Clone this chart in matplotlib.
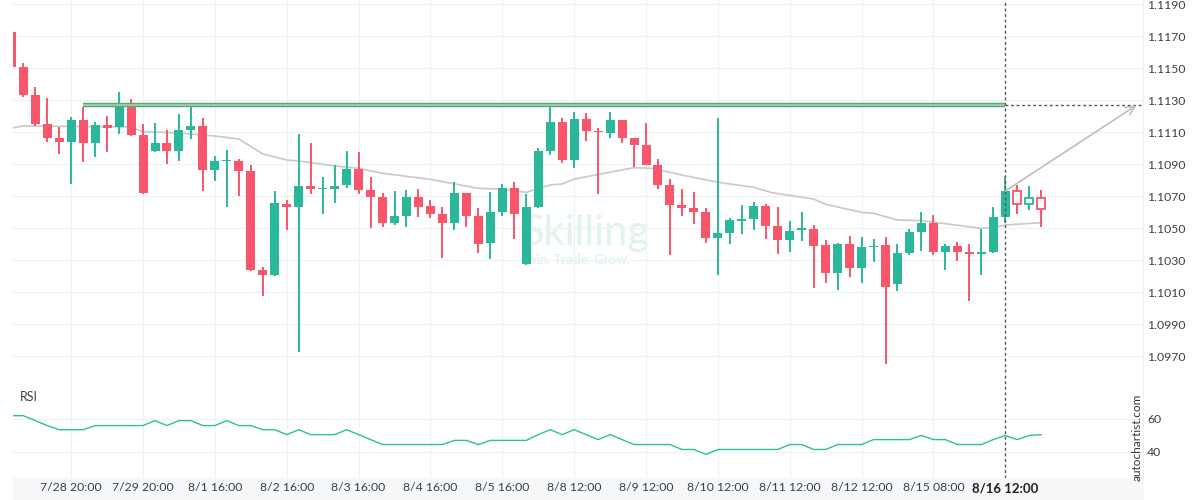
import numpy as np
import matplotlib
matplotlib.use("Agg")
import matplotlib.pyplot as plt

plt.rcParams['font.family'] = ['Lato', 'DejaVu Sans']

# 4h candles, index 0 = 7/28 00:00 ; candles 84-86 are the hollow (after signal) ones
opens = [1.11725, 1.11506, 1.11331, 1.11150, 1.11063, 1.11040, 1.11175, 1.11033, 1.11144, 1.11131,
         1.11256, 1.11081, 1.10983, 1.11030, 1.10983, 1.11113, 1.11138, 1.10864, 1.10919, 1.10919,
         1.10856, 1.10238, 1.10208, 1.10650, 1.10629, 1.10763, 1.10744, 1.10744, 1.10769, 1.10869,
         1.10738, 1.10694, 1.10533, 1.10577, 1.10694, 1.10638, 1.10588, 1.10533, 1.10719, 1.10575,
         1.10408, 1.10602, 1.10750, 1.10277, 1.10631, 1.10983, 1.11163, 1.10925, 1.11181, 1.11108,
         1.11096, 1.11175, 1.11063, 1.11019, 1.10892, 1.10769, 1.10644, 1.10625, 1.10600, 1.10440,
         1.10469, 1.10546, 1.10558, 1.10638, 1.10513, 1.10427, 1.10490, 1.10494, 1.10394, 1.10221,
         1.10400, 1.10252, 1.10383, 1.10394, 1.10152, 1.10346, 1.10477, 1.10531, 1.10352, 1.10388,
         1.10350, 1.10339, 1.10350, 1.10571, 1.10731, 1.10648, 1.10686]
highs = [1.11725, 1.11529, 1.11379, 1.11311, 1.11129, 1.11192, 1.11258, 1.11163, 1.11198, 1.11348,
         1.11304, 1.11148, 1.11154, 1.11113, 1.11211, 1.11267, 1.11188, 1.10950, 1.10986, 1.10931,
         1.10894, 1.10258, 1.10731, 1.10675, 1.11086, 1.11033, 1.10819, 1.10894, 1.10981, 1.10975,
         1.10817, 1.10717, 1.10729, 1.10738, 1.10742, 1.10673, 1.10633, 1.10790, 1.10719, 1.10625,
         1.10723, 1.10775, 1.10786, 1.10714, 1.10998, 1.11263, 1.11186, 1.11223, 1.11217, 1.11123,
         1.11223, 1.11175, 1.11063, 1.11154, 1.10929, 1.10804, 1.10744, 1.10723, 1.10625, 1.11186,
         1.10563, 1.10642, 1.10660, 1.10652, 1.10629, 1.10542, 1.10598, 1.10517, 1.10427, 1.10406,
         1.10450, 1.10444, 1.10430, 1.10446, 1.10400, 1.10494, 1.10598, 1.10580, 1.10400, 1.10410,
         1.10400, 1.10494, 1.10633, 1.10817, 1.10769, 1.10763, 1.10738]
lows = [1.11508, 1.11317, 1.11138, 1.11039, 1.10961, 1.10773, 1.10910, 1.10942, 1.10973, 1.11086,
        1.11077, 1.10715, 1.10977, 1.10898, 1.10917, 1.11054, 1.10733, 1.10796, 1.10629, 1.10702,
        1.10233, 1.10075, 1.10200, 1.10488, 1.09725, 1.10710, 1.10586, 1.10658, 1.10752, 1.10710,
        1.10498, 1.10504, 1.10520, 1.10504, 1.10567, 1.10565, 1.10311, 1.10486, 1.10504, 1.10346,
        1.10304, 1.10577, 1.10429, 1.10269, 1.10623, 1.10954, 1.10908, 1.10873, 1.11046, 1.10710,
        1.11061, 1.11030, 1.10880, 1.10892, 1.10746, 1.10329, 1.10573, 1.10523, 1.10404, 1.10204,
        1.10398, 1.10461, 1.10486, 1.10429, 1.10336, 1.10348, 1.10417, 1.10127, 1.10156, 1.10111,
        1.10192, 1.10154, 1.10290, 1.09648, 1.10104, 1.10329, 1.10358, 1.10329, 1.10236, 1.10292,
        1.10042, 1.10204, 1.10342, 1.10530, 1.10586, 1.10613, 1.10508]
closes = [1.11508, 1.11333, 1.11152, 1.11064, 1.11040, 1.11175, 1.11033, 1.11142, 1.11127, 1.11256,
          1.11083, 1.10721, 1.11030, 1.10983, 1.11113, 1.11138, 1.10864, 1.10919, 1.10923, 1.10859,
          1.10239, 1.10208, 1.10656, 1.10629, 1.10763, 1.10744, 1.10752, 1.10763, 1.10869, 1.10740,
          1.10694, 1.10533, 1.10575, 1.10694, 1.10633, 1.10588, 1.10533, 1.10719, 1.10577, 1.10402,
          1.10600, 1.10750, 1.10589, 1.10631, 1.10981, 1.11163, 1.10925, 1.11181, 1.11108, 1.11102,
          1.11175, 1.11064, 1.11021, 1.10896, 1.10771, 1.10646, 1.10627, 1.10602, 1.10440, 1.10469,
          1.10550, 1.10556, 1.10638, 1.10514, 1.10427, 1.10481, 1.10500, 1.10390, 1.10221, 1.10400,
          1.10252, 1.10381, 1.10390, 1.10133, 1.10344, 1.10475, 1.10531, 1.10352, 1.10388, 1.10352,
          1.10339, 1.10350, 1.10571, 1.10731, 1.10648, 1.10686, 1.10617]

# moving average (grey), read at these candle positions
ma_x = [0, 1, 10, 11, 14, 17, 19, 21, 23, 24, 27, 29, 31, 35, 39, 41, 43, 45, 46, 47, 48,
        52, 53.5, 56, 59, 62, 63.5, 67, 68, 71, 72, 74, 76, 81, 82, 83, 86]
ma_y = [1.11125, 1.11138, 1.11131, 1.11102, 1.11094, 1.11075, 1.11056, 1.10963, 1.10925, 1.10919,
        1.10888, 1.10873, 1.10842, 1.10804, 1.10748, 1.10742, 1.10723, 1.10769, 1.10775, 1.10806,
        1.10820, 1.10877, 1.10873, 1.10831, 1.10786, 1.10754, 1.10721, 1.10681, 1.10648, 1.10598,
        1.10592, 1.10550, 1.10546, 1.10498, 1.10502, 1.10519, 1.10533]

rsi = [62, 62, 59, 56, 53.5, 53.5, 53.5, 56, 56, 56, 56, 56, 59, 56, 59, 59, 56, 56, 59, 56,
       56, 53.5, 53.5, 50.5, 53.5, 50.5, 50.5, 50.5, 53.5, 50.5, 47.5, 44.5, 44.5, 44.5, 44.5, 44.5,
       44.5, 47, 47, 44.5, 47, 47, 47, 47, 50.5, 53.5, 50.5, 53.5, 50.5, 47.5, 50.5, 47.5, 44.5,
       44.5, 44.5, 44.5, 41.5, 41.5, 38.5, 41.5, 41.5, 41.5, 41.5, 41.5, 41.5, 44.5, 44.5, 41.5,
       41.5, 44.5, 44.5, 44.5, 47.5, 47.5, 47.5, 47.5, 50, 47.5, 47.5, 44.5, 44.5, 44.5, 47.5, 50,
       47.5, 50, 50.5]

tick_pos = [5, 11, 17, 23, 29, 35, 41, 47, 53, 59, 65, 71, 77, 83]
tick_labels = ["7/28 20:00", "7/29 20:00", "8/1 16:00", "8/2 16:00", "8/3 16:00", "8/4 16:00",
               "8/5 16:00", "8/8 12:00", "8/9 12:00", "8/10 12:00", "8/11 12:00", "8/12 12:00",
               "8/15 08:00", "8/16 12:00"]

resistance = 1.11267
res_start = 6
signal_idx = 83
n_real = 84

green = '#2bb89a'
red = '#f7566b'
grid_c = '#eef2f7'
txt_c = '#3a4048'
wm_c = '#e0f3ee'

fig = plt.figure(figsize=(12, 5), dpi=100)
L, R = 12.5 / 1200, 1143 / 1200
ax = fig.add_axes([L, 1 - 372 / 500, R - L, 372 / 500])
ax2 = fig.add_axes([L, 1 - 478 / 500, R - L, 106 / 500])

# label band under the chart (drawn behind the axes)
fig.patches.append(plt.Rectangle((L, 0), R - L, 1 - 478 / 500, transform=fig.transFigure,
                                 color='#f6f7f9', zorder=-10))

x = np.arange(len(opens))
xl = (0.1, 94.5)

# watermark
ax.text(48.0, 1.10470, "Skilling", fontsize=30, color=wm_c, ha='center', va='center', zorder=0)
ax.text(47.2, 1.10300, "Join. Trade. Grow.", fontsize=9.5, fontweight='bold', color=wm_c,
        ha='center', va='center', zorder=0)

for i in x:
    o, h, l, c = opens[i], highs[i], lows[i], closes[i]
    col = green if c >= o else red
    ax.vlines(i, l, h, color=col, lw=1.4, zorder=2)
    hgt = max(abs(c - o), 0.00008)
    bot = min(o, c) if abs(c - o) >= 0.00008 else (o + c) / 2 - 0.00004
    if i < n_real:
        ax.bar(i, hgt, 0.75, bottom=bot, color=col, zorder=3, linewidth=0)
    else:
        ax.bar(i, hgt, 0.7, bottom=bot, facecolor='white', edgecolor=col, linewidth=1.3, zorder=3)

ax.plot(ma_x, ma_y, color='#c9c9c9', lw=1.2, zorder=1)

# resistance level
ax.plot([res_start, signal_idx], [resistance, resistance], color='#5fa873', lw=3.2,
        solid_capstyle='butt', zorder=4)
ax.plot([res_start, signal_idx], [resistance, resistance], color='#a3d3b0', lw=1.2,
        solid_capstyle='butt', zorder=4)
ax.plot([signal_idx, xl[1]], [resistance, resistance], color='#555555', lw=1,
        dashes=(2, 2), zorder=4)
ax.axvline(signal_idx, color='#555555', lw=1, dashes=(2, 2), zorder=4)
ax2.axvline(signal_idx, color='#555555', lw=1, dashes=(2, 2), zorder=4)
ax.annotate("", xy=(93.95, resistance), xytext=(signal_idx, closes[signal_idx]),
            arrowprops=dict(arrowstyle='->', color='#bdbdbd', lw=1.2, mutation_scale=16,
                            shrinkA=0, shrinkB=0), zorder=5)

ax.set_xlim(*xl)
ax.set_ylim(1.0960, 1.11925)
ax.set_yticks(np.arange(1.0970, 1.1191, 0.002))
ax.set_yticklabels([f"{v:.4f}" for v in np.arange(1.0970, 1.1191, 0.002)])
ax.set_xticks(tick_pos)
ax.set_xticklabels([])

# RSI panel
ax2.plot(x, rsi, color='#2cbf9f', lw=1)
ax2.set_xlim(*xl)
ax2.set_ylim(24.2, 88.5)
ax2.set_yticks([40, 60])
ax2.set_xticks(tick_pos)
ax2.set_xticklabels(tick_labels)
fig.text(20 / 1200, 1 - 397 / 500, "RSI", fontsize=9, color=txt_c, va='center')
fig.text(1137 / 1200, 1 - 437 / 500, "autochartist.com", rotation=90, fontsize=8.5,
         color='#333333', ha='center', va='center')

for a in (ax, ax2):
    a.yaxis.tick_right()
    a.tick_params(axis='both', length=0, labelsize=8.8, labelcolor=txt_c)
    a.tick_params(axis='y', pad=3)
    a.tick_params(axis='x', pad=3)
    a.grid(True, color=grid_c, lw=0.9)
    a.set_axisbelow(True)
    for s in ('top', 'left', 'bottom'):
        a.spines[s].set_visible(False)
    a.spines['right'].set_color('#eef0f3')

lbls = ax2.get_xticklabels()
lbls[-1].set_fontweight('bold')
lbls[-1].set_fontsize(9.5)
lbls[-1].set_color('#222222')

fig.savefig("out.png", dpi=100, facecolor='white')
